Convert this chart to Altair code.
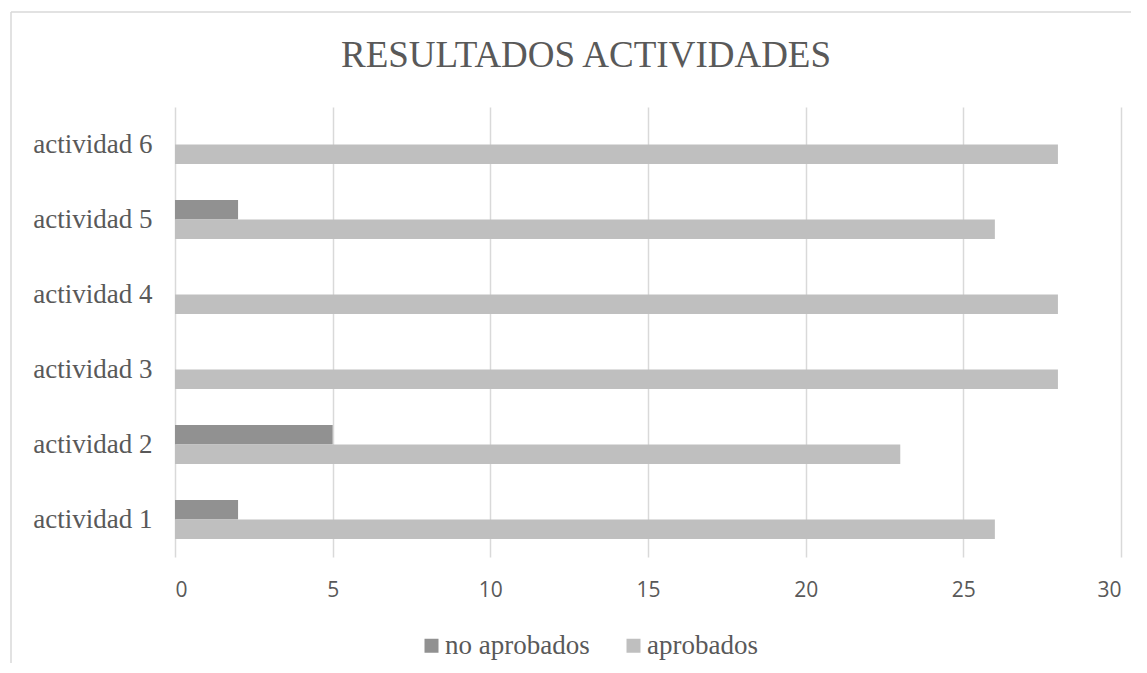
import altair as alt
import pandas as pd

actividades = ["actividad 1", "actividad 2", "actividad 3", "actividad 4", "actividad 5", "actividad 6"]
no_aprobados = [2, 5, 0, 0, 2, 0]
aprobados = [26, 23, 28, 28, 26, 28]
series = ["no aprobados", "aprobados"]
colores = ["#919191", "#bfbfbf"]
x_ticks = [0, 5, 10, 15, 20, 25, 30]

rows = []
for a, n, p in zip(actividades, no_aprobados, aprobados):
    rows.append({"actividad": a, "serie": "no aprobados", "valor": n})
    rows.append({"actividad": a, "serie": "aprobados", "valor": p})
df = pd.DataFrame(rows)

SERIF = "Liberation Serif"
SANS = "Open Sans"
TXT = "#595959"

bars = alt.Chart(df).mark_bar().encode(
    x=alt.X("valor:Q",
            scale=alt.Scale(domain=[0, 30], nice=False),
            axis=alt.Axis(values=x_ticks, title=None, grid=True, gridColor="#d9d9d9",
                          gridWidth=1.5, domain=False, ticks=False,
                          labelFont=SANS, labelFontSize=21, labelColor=TXT,
                          labelPadding=22)),
    y=alt.Y("actividad:N", sort=actividades[::-1],
            scale=alt.Scale(paddingInner=0.48, paddingOuter=0.24),
            axis=alt.Axis(title=None, domain=False, ticks=False, grid=False,
                          labelFont=SERIF, labelFontSize=27, labelColor=TXT,
                          labelPadding=23)),
    yOffset=alt.YOffset("serie:N", sort=series,
                        scale=alt.Scale(paddingInner=0, paddingOuter=0)),
    color=alt.Color("serie:N",
                    scale=alt.Scale(domain=series, range=colores),
                    legend=alt.Legend(orient="none", legendX=243, legendY=525,
                                      direction="horizontal", columns=2, title=None,
                                      symbolType="square", symbolSize=196,
                                      symbolStrokeWidth=0, labelFont=SERIF,
                                      labelFontSize=27, labelColor=TXT,
                                      labelOffset=0, columnPadding=30)),
)

dummy = pd.DataFrame({"k": [0]})
border_left = alt.Chart(dummy).mark_rule(color="#d9d9d9", strokeWidth=1.5).encode(
    x=alt.value(-164), y=alt.value(-95), y2=alt.value(600))
border_top = alt.Chart(dummy).mark_rule(color="#d9d9d9", strokeWidth=1.5).encode(
    x=alt.value(-164), x2=alt.value(1000), y=alt.value(-95))

chart = alt.layer(border_left, border_top, bars).properties(
    width=946, height=450,
    title=alt.TitleParams("RESULTADOS ACTIVIDADES", font=SERIF, fontSize=37,
                          fontWeight="normal", color=TXT, anchor="middle",
                          dx=-62, offset=0, dy=64),
    autosize=alt.AutoSizeParams(type="none"),
    padding={"left": 167, "top": 99, "right": 10, "bottom": 106},
).configure_view(stroke=None)

chart.save("out.html", embed_options={"renderer": "svg", "actions": False})
